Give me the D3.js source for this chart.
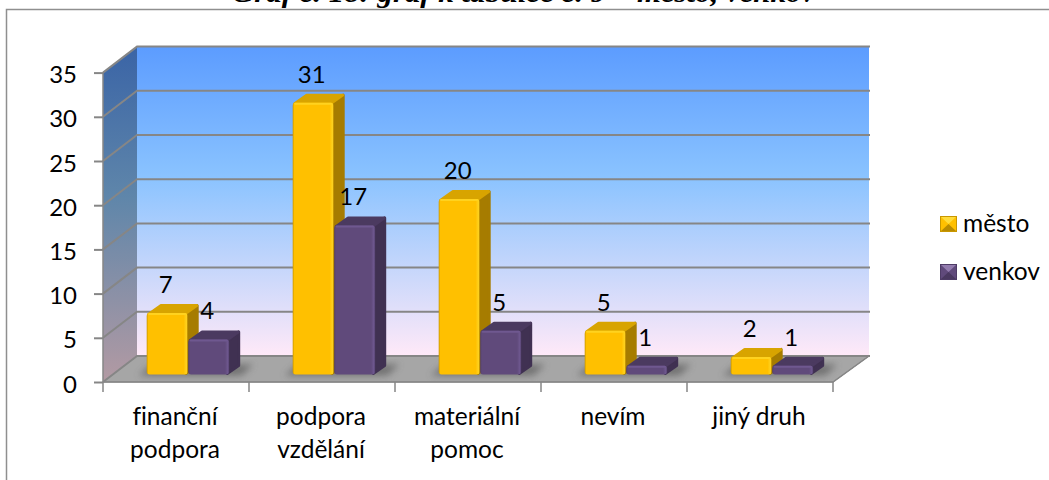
<!DOCTYPE html>
<html lang="cs">
<head>
<meta charset="UTF-8">
<title>Graf 18</title>
<script src="https://d3js.org/d3.v7.min.js"></script>
<style>
  html, body { margin: 0; padding: 0; background: #fff; overflow: hidden; }
  text { font-family: Lato, "Open Sans", sans-serif; fill: #000; font-variant-ligatures: none; }
  .title { font: italic bold 28px "Liberation Serif", serif; fill: #000; }
  .axis path { display: none; }
  .axis line { stroke: #868686; stroke-width: 2; }
  .axis text { font-size: 24px; fill: #000; }
</style>
</head>
<body>
<svg id="chart" width="1049" height="480"></svg>
<script>
var categories = ["finanční podpora", "podpora vzdělání", "materiální pomoc", "nevím", "jiný druh"];
var categoryLines = [["finanční", "podpora"], ["podpora", "vzdělání"], ["materiální", "pomoc"], ["nevím"], ["jiný druh"]];
var seriesNames = ["město", "venkov"];
var mesto = [7, 31, 20, 5, 2];
var venkov = [4, 17, 5, 1, 1];
var yTicks = [0, 5, 10, 15, 20, 25, 30, 35];

var palette = {
  "město": { front: "#ffc000", edge: "#ffd21f", line: "#c99700", side: "#a67c00", top: "#d8a400", lt: "#ffdc3c", lb: "#b98b00" },
  "venkov": { front: "#604a7b", edge: "#6f5890", line: "#4e3c66", side: "#403152", top: "#4b3a60", lt: "#937cae", lb: "#4a3960" }
};

var svg = d3.select("#chart");
var depthX = 34, depthXRight = 36, depthY = 26;      // wall depth
var barDX = 12, barDY = 10;        // bar depth

var x = d3.scaleBand().domain(categories).range([103, 833]);
var xSeries = d3.scaleBand().domain(seriesNames).range([43.7, 43.7 + 83]);
var y = d3.scaleLinear().domain([0, 35]).range([382, 72.6]);
var yBar = d3.scaleLinear().domain([0, 35]).range([374.5, 374.5 - 35 * 8.77]);

var defs = svg.append("defs");

var wall = defs.append("linearGradient").attr("id", "wall").attr("x1", 0).attr("x2", 0).attr("y1", 0).attr("y2", 1);
wall.append("stop").attr("offset", "0").attr("stop-color", "#5c9cff");
wall.append("stop").attr("offset", "0.42").attr("stop-color", "#8ac3ff");
wall.append("stop").attr("offset", "1").attr("stop-color", "#ffe9f8");

var sideWall = defs.append("linearGradient").attr("id", "sideWall").attr("x1", 0).attr("x2", 0).attr("y1", 0).attr("y2", 1);
sideWall.append("stop").attr("offset", "0").attr("stop-color", "#3a64a6");
sideWall.append("stop").attr("offset", "0.45").attr("stop-color", "#5f86aa");
sideWall.append("stop").attr("offset", "1").attr("stop-color", "#b39aa3");

defs.append("filter").attr("id", "blur").attr("x", "-30%").attr("y", "-50%").attr("width", "160%").attr("height", "200%")
  .append("feGaussianBlur").attr("stdDeviation", 3.5);

seriesNames.forEach(function(s, i) {
  var g = defs.append("linearGradient").attr("id", "front" + i);
  g.append("stop").attr("offset", "0").attr("stop-color", palette[s].line);
  g.append("stop").attr("offset", "0.04").attr("stop-color", palette[s].front);
  g.append("stop").attr("offset", "0.9").attr("stop-color", palette[s].front);
  g.append("stop").attr("offset", "0.97").attr("stop-color", palette[s].edge);
  g.append("stop").attr("offset", "1").attr("stop-color", palette[s].line);
});

// title, cut off by the top of the picture
svg.append("text").attr("class", "title").attr("x", 523.5).attr("y", 2).attr("text-anchor", "middle")
  .attr("textLength", 583).attr("lengthAdjust", "spacingAndGlyphs")
  .text("Graf č. 18: graf k tabulce č. 9 – město, venkov");

// frame
svg.append("path").attr("d", "M6.5,480V9.5H1049").attr("fill", "none").attr("stroke", "#8f8f8f").attr("stroke-width", 1.5);

var x0 = x.range()[0], x1 = x.range()[1];
function pts(a) { return a.map(function(p) { return p.join(","); }).join(" "); }

// walls and floor
svg.append("polygon").attr("fill", "url(#wall)")
  .attr("points", pts([[x0 + depthX, y(35) - depthY], [x1 + depthXRight, y(35) - depthY], [x1 + depthXRight, y(0) - depthY], [x0 + depthX, y(0) - depthY]]));
svg.append("polygon").attr("fill", "url(#sideWall)")
  .attr("points", pts([[x0, y(35)], [x0 + depthX, y(35) - depthY], [x0 + depthX, y(0) - depthY], [x0, y(0)]]));
svg.append("polygon").attr("fill", "#a6a6a6").attr("stroke", "#868686").attr("stroke-width", 1)
  .attr("points", pts([[x0, y(0)], [x0 + depthX, y(0) - depthY], [x1 + depthXRight, y(0) - depthY], [x1, y(0)]]));

// gridlines
svg.append("g").selectAll("path").data(yTicks).enter().append("path")
  .attr("fill", "none").attr("stroke", "#868686").attr("stroke-width", 2)
  .attr("d", function(d) {
    return "M" + x0 + "," + y(d) + "L" + (x0 + depthX) + "," + (y(d) - depthY) + "H" + (x1 + depthXRight + 1);
  });
svg.append("path").attr("fill", "none").attr("stroke", "#868686").attr("stroke-width", 1.5)
  .attr("d", "M" + x0 + "," + y(35) + "V" + y(0) + "H" + x1 + "l" + depthXRight + "," + (-depthY));

// axes
var yAxis = svg.append("g").attr("class", "axis").attr("transform", "translate(" + x0 + ",0)")
  .call(d3.axisLeft(y).tickValues(yTicks).tickSize(9).tickPadding(17));
yAxis.selectAll("text").attr("dy", "0.42em");

var xTickPos = categories.map(function(c) { return x(c); }).concat([x1]);
svg.append("g").selectAll("line").data(xTickPos).enter().append("line")
  .attr("x1", function(d) { return d; }).attr("x2", function(d) { return d; })
  .attr("y1", y(0)).attr("y2", y(0) + 10)
  .attr("stroke", "#868686").attr("stroke-width", 1.5);

var catLabels = svg.append("g").selectAll("text").data(categories).enter().append("text")
  .attr("text-anchor", "middle").attr("font-size", 24.5)
  .attr("transform", function(d) { return "translate(" + (x(d) + x.bandwidth() / 2 - 1) + ",425)"; });
catLabels.selectAll("tspan").data(function(d, i) { return categoryLines[i]; }).enter().append("tspan")
  .attr("x", 0).attr("y", function(d, i) { return i * 33; }).text(function(d) { return d; });

// bars
var rows = [];
categories.forEach(function(c, i) {
  rows.push({ cat: c, name: "město", idx: 0, value: mesto[i] });
  rows.push({ cat: c, name: "venkov", idx: 1, value: venkov[i] });
});
var bw = xSeries.bandwidth() - 0.5;
function barX(d) { return x(d.cat) + xSeries(d.name); }

// shadows on the floor
svg.append("g").selectAll("polygon").data(categories).enter().append("polygon")
  .attr("fill", "#555").attr("opacity", 0.65).attr("filter", "url(#blur)")
  .attr("points", function(c) {
    var l = x(c) + xSeries("město"), r = x(c) + xSeries("venkov") + bw, b = yBar(0);
    return pts([[l - 8, b + 1], [l + 6, b - 10], [r + 24, b - 10], [r + 12, b + 1]]);
  });

var bars = svg.append("g").selectAll("g").data(rows).enter().append("g");

bars.append("polygon").attr("stroke-linejoin", "round").attr("stroke-width", 3)
  .attr("fill", function(d) { return palette[d.name].side; })
  .attr("stroke", function(d) { return palette[d.name].side; })
  .attr("points", function(d) {
    var l = barX(d) + bw - 2, t = yBar(d.value), b = yBar(0);
    return pts([[l, t + 2], [l + barDX - 0.5, t - barDY + 2.5], [l + barDX - 0.5, b - barDY + 1], [l, b - 1]]);
  });
bars.append("polygon").attr("stroke-linejoin", "round").attr("stroke-width", 3)
  .attr("fill", function(d) { return palette[d.name].top; })
  .attr("stroke", function(d) { return palette[d.name].top; })
  .attr("points", function(d) {
    var l = barX(d) + 2, t = yBar(d.value) + 1;
    return pts([[l, t], [l + barDX, t - barDY + 1.5], [l + bw + barDX - 5, t - barDY + 1.5], [l + bw - 5, t]]);
  });
bars.append("rect")
  .attr("x", barX).attr("y", function(d) { return yBar(d.value); })
  .attr("width", bw).attr("height", function(d) { return yBar(0) - yBar(d.value); })
  .attr("rx", 3)
  .attr("fill", function(d) { return "url(#front" + d.idx + ")"; });
bars.append("rect")
  .attr("x", function(d) { return barX(d) + 1.5; }).attr("y", function(d) { return yBar(d.value); })
  .attr("width", bw - 3).attr("height", 2).attr("rx", 1)
  .attr("fill", function(d) { return palette[d.name].edge; });

// data labels
svg.append("g").selectAll("text").data(rows).enter().append("text")
  .attr("text-anchor", "middle").attr("font-size", 24)
  .attr("x", function(d) { return barX(d) + bw / 2 - 1.5; })
  .attr("y", function(d) { return yBar(d.value) - 20; })
  .text(function(d) { return d.value; });

// legend
var legendY = d3.scalePoint().domain(seriesNames).range([224, 272]);
var legend = svg.append("g").selectAll("g").data(seriesNames).enter().append("g")
  .attr("transform", function(d) { return "translate(940," + (legendY(d) - 8) + ")"; });
legend.append("rect").attr("width", 17).attr("height", 16).attr("fill", function(d) { return palette[d].front; });
legend.append("polygon").attr("points", "0,0 17,0 8.5,8").attr("fill", function(d) { return palette[d].lt; });
legend.append("polygon").attr("points", "0,16 17,16 8.5,8").attr("fill", function(d) { return palette[d].lb; });
legend.append("rect").attr("x", 0.5).attr("y", 0.5).attr("width", 16).attr("height", 15).attr("fill", "none")
  .attr("stroke", function(d) { return palette[d].line; });
legend.append("text").attr("x", 23).attr("y", 16).attr("font-size", 24.5).text(function(d) { return d; });
</script>
</body>
</html>
